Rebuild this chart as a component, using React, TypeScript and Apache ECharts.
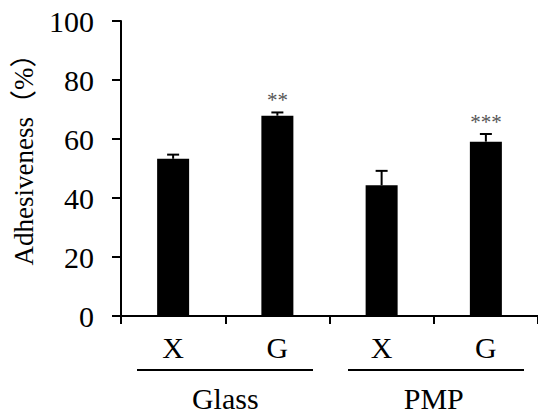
import React, { useEffect, useRef } from "react";
import * as echarts from "echarts";

const categories = ["X", "G", "X", "G"];
const groups = ["Glass", "PMP"];
const values = [53.3, 67.9, 44.3, 59.1];
const errors = [1.4, 1.1, 4.9, 2.6];
const stars = ["", "**", "", "***"];
const yTicks = { min: 0, max: 100, interval: 20 };
const yTitle = "Adhesiveness（%）";

const FONT = '"Liberation Serif", "Times New Roman", "Noto Sans CJK JP", serif';

export default function App() {
  const ref = useRef<HTMLDivElement>(null);
  useEffect(() => {
    if (!ref.current) return;
    const chart = echarts.init(ref.current, null, { renderer: "svg" });
    const errData = values.map((v, i) => [i, v, v + errors[i]]);
    chart.setOption({
      animation: false,
      backgroundColor: "#ffffff",
      grid: { left: 121, top: 21, width: 421, height: 296, containLabel: false },
      xAxis: [
        {
          type: "category",
          data: categories,
          boundaryGap: true,
          axisLine: { show: true, lineStyle: { color: "#000", width: 2 } },
          axisTick: { show: true, alignWithLabel: false, length: 8, lineStyle: { color: "#000", width: 2 } },
          axisLabel: { color: "#000", fontFamily: FONT, fontSize: 30, margin: 16 },
          splitLine: { show: false },
        },
        {
          type: "category",
          data: groups,
          position: "bottom",
          offset: 56,
          gridIndex: 0,
          axisLine: { show: false },
          axisTick: { show: false },
          axisLabel: { color: "#000", fontFamily: FONT, fontSize: 30, margin: 11 },
          splitLine: { show: false },
        },
      ],
      yAxis: {
        type: "value",
        min: yTicks.min,
        max: yTicks.max,
        interval: yTicks.interval,
        axisLine: { show: true, lineStyle: { color: "#000", width: 2 } },
        axisTick: { show: true, length: 9, lineStyle: { color: "#000", width: 2 } },
        axisLabel: { color: "#000", fontFamily: FONT, fontSize: 30, margin: 27 },
        splitLine: { show: false },
      },
      series: [
        {
          type: "bar",
          data: values,
          barWidth: 32,
          itemStyle: { color: "#000" },
          xAxisIndex: 0,
        },
        {
          type: "custom",
          xAxisIndex: 0,
          data: errData,
          renderItem: (params: any, api: any) => {
            const i = api.value(0);
            const lo = api.coord([i, api.value(1)]);
            const hi = api.coord([i, api.value(2)]);
            const s = stars[params.dataIndex];
            const children: any[] = [
              { type: "line", shape: { x1: lo[0], y1: lo[1], x2: hi[0], y2: hi[1] }, style: { stroke: "#000", lineWidth: 2 } },
              { type: "line", shape: { x1: hi[0] - 6, y1: hi[1], x2: hi[0] + 6, y2: hi[1] }, style: { stroke: "#000", lineWidth: 2 } },
            ];
            if (s) {
              children.push({
                type: "text",
                x: hi[0],
                y: hi[1] - 2,
                style: { text: s, fill: "#555", font: `21px ${FONT}`, align: "center", verticalAlign: "bottom" },
              });
            }
            return { type: "group", children };
          },
        },
      ],
      graphic: [
        { type: "line", shape: { x1: 137, y1: 370, x2: 313, y2: 370 }, style: { stroke: "#000", lineWidth: 2 } },
        { type: "line", shape: { x1: 348, y1: 370, x2: 524, y2: 370 }, style: { stroke: "#000", lineWidth: 2 } },
        {
          type: "text",
          x: 24,
          y: 153,
          rotation: Math.PI / 2,
          style: { text: yTitle, fill: "#000", font: `27px ${FONT}`, align: "center", verticalAlign: "middle" },
        },
      ],
    });
    return () => chart.dispose();
  }, []);
  return <div ref={ref} style={{ position: "absolute", left: 0, top: 0, width: 538, height: 413 }} />;
}
